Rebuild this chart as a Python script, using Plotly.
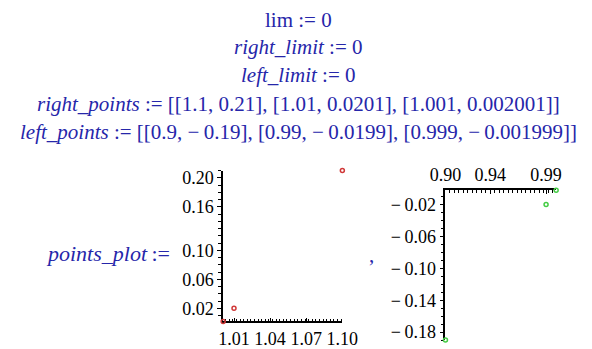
import plotly.graph_objects as go

# Results of the limit computations
lim_value = 0
right_limit = 0
left_limit = 0

# Sample points approaching x = 1 from each side
right_x = [1.1, 1.01, 1.001]
right_y = [0.21, 0.0201, 0.002001]
left_x = [0.9, 0.99, 0.999]
left_y = [-0.19, -0.0199, -0.001999]

# Tick labels shown on each axis
right_xticks = [1.01, 1.04, 1.07, 1.10]
right_yticks = [0.02, 0.06, 0.10, 0.16, 0.20]
left_xticks = [0.90, 0.94, 0.99]
left_yticks = [-0.02, -0.06, -0.10, -0.14, -0.18]

W, H = 592, 349
BLUE = "rgb(38,38,170)"
SERIF = "Liberation Serif"
MINUS = "\u2212\u2009"


def fx(px):
    return px / W


def fy(py):
    return 1 - py / H


def num(v):
    return str(v).replace("-", MINUS)


def fmt_list(xs, ys):
    pairs = ", ".join(f"[{num(x)}, {num(y)}]" for x, y in zip(xs, ys))
    return f"[{pairs}]"


fig = go.Figure()

fig.add_trace(go.Scatter(
    x=right_x, y=right_y, mode="markers", xaxis="x", yaxis="y",
    marker=dict(symbol="circle-open", size=4, color="#d03838", line=dict(width=1.5)),
    cliponaxis=False, hoverinfo="skip",
))
fig.add_trace(go.Scatter(
    x=left_x, y=left_y, mode="markers", xaxis="x2", yaxis="y2",
    marker=dict(symbol="circle-open", size=4, color="#44cc44", line=dict(width=1.5)),
    cliponaxis=False, hoverinfo="skip",
))

tick_font = dict(family=SERIF, size=18, color="black")
axis_common = dict(
    showline=True, linecolor="black", linewidth=1.5, showgrid=False,
    zeroline=False, tickfont=tick_font, ticklen=4, tickwidth=1,
    tickcolor="black", fixedrange=True, layer="below traces",
)

fig.update_layout(
    width=W, height=H, margin=dict(l=0, r=0, t=0, b=0),
    paper_bgcolor="white", plot_bgcolor="white", showlegend=False,
    xaxis=dict(
        **axis_common, domain=[fx(219), fx(345)], range=[min(right_x), max(right_x)],
        anchor="y", side="bottom", ticks="inside",
        tickmode="array", tickvals=right_xticks,
        ticktext=[f"{v:.2f}" for v in right_xticks],
        minor=dict(tickmode="linear", tick0=1.0, dtick=0.003, ticklen=3,
                   ticks="inside", tickcolor="black"),
    ),
    yaxis=dict(
        **axis_common, domain=[fy(326), fy(172)], range=[min(right_y), max(right_y)],
        anchor="x", side="left", ticks="outside",
        tickmode="array", tickvals=right_yticks,
        ticktext=[f"{v:.2f}" for v in right_yticks],
        minor=dict(tickmode="linear", tick0=0.0, dtick=0.01, ticklen=3,
                   ticks="outside", tickcolor="black"),
    ),
    xaxis2=dict(
        **axis_common, domain=[fx(454), fx(571)], range=[min(left_x), max(left_x)],
        anchor="y2", side="top", ticks="inside",
        tickmode="array", tickvals=left_xticks,
        ticktext=[f"{v:.2f}" for v in left_xticks],
        minor=dict(tickmode="linear", tick0=0.9, dtick=0.004, ticklen=3,
                   ticks="inside", tickcolor="black"),
    ),
    yaxis2=dict(
        **axis_common, domain=[fy(345), fy(192)], range=[min(left_y), max(left_y)],
        anchor="x2", side="left", ticks="outside",
        tickmode="array", tickvals=left_yticks,
        ticktext=[f"{MINUS}{abs(v):.2f}" for v in left_yticks],
        minor=dict(tickmode="linear", tick0=0.0, dtick=0.01, ticklen=3,
                   ticks="outside", tickcolor="black"),
    ),
)

text_font = dict(family=SERIF, size=21, color=BLUE)
lines = [
    (18, f"lim := {lim_value}"),
    (46, f"<i>right_limit</i> := {right_limit}"),
    (75, f"<i>left_limit</i> := {left_limit}"),
    (104, f"<i>right_points</i> := {fmt_list(right_x, right_y)}"),
    (133, f"<i>left_points</i> := {fmt_list(left_x, left_y)}"),
]
for py, txt in lines:
    fig.add_annotation(x=fx(299), y=fy(py), xref="paper", yref="paper",
                       text=txt, showarrow=False, font=text_font,
                       xanchor="center", yanchor="middle")

fig.add_annotation(x=fx(97), y=fy(257), xref="paper", yref="paper",
                   text="<i>points_plot</i>\u2009:=", showarrow=False,
                   font=dict(family=SERIF, size=22, color=BLUE),
                   xanchor="center", yanchor="middle")
fig.add_annotation(x=fx(376), y=fy(258), xref="paper", yref="paper",
                   text=",", showarrow=False, font=text_font,
                   xanchor="center", yanchor="middle")

fig.write_html("out.html")
